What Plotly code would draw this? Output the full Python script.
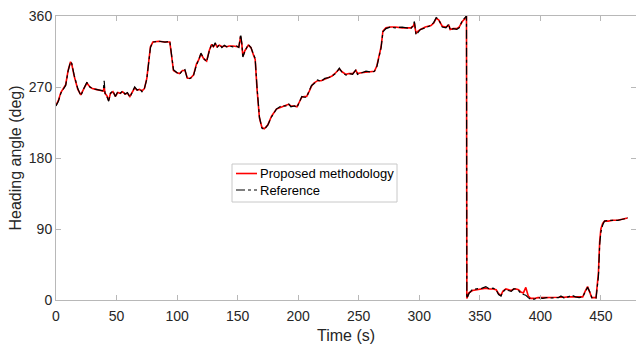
import plotly.graph_objects as go

T = [0, 2, 4, 6, 8, 10, 12, 13, 15, 18, 20.5, 23, 25.5, 28, 30, 33, 36, 39, 39.8, 40.5,
     42, 43.5, 45, 47, 49, 51, 53, 55, 57, 59, 61, 63, 65, 67, 69, 71, 73, 75, 76.5, 78,
     80, 85, 90, 94, 95.5, 97, 100, 102, 104.5, 106.5, 108.5, 111, 113.5, 116, 118, 119.7, 122, 124.4, 126.5, 128.6,
     130, 131.5, 133, 135, 137, 139, 141, 143, 146, 149, 151, 152.5, 153.5, 154.3, 156, 158.8, 161, 163, 164.5, 166,
     168, 170, 172, 175, 178, 182, 186, 190, 192, 194, 197, 199, 201, 203, 205, 207, 209, 211, 213, 216,
     219, 222, 225.7, 228, 231, 234, 236.5, 239.5, 242, 245, 247.7, 249, 252, 256, 260, 263, 265, 267, 268.5, 270,
     272.5, 276, 280, 286, 290, 293, 295, 296, 297.3, 299, 301, 305, 309.7, 312, 314, 316, 319, 322, 324.5, 325.5,
     328, 331, 333, 335.5, 338, 339, 339.3, 341, 344, 348, 352, 355, 358, 361, 363.5, 365.5, 367.5, 369, 371.5, 373.5,
     376, 378, 380, 382, 384, 386, 388, 390, 392, 395, 398, 402, 405, 408, 412, 415, 417, 420, 423, 426,
     429, 432, 435, 437, 439, 441, 442.5, 446, 448, 449, 450, 451.5, 453, 456, 460, 464, 467, 470, 471, 472]

REFERENCE = [246, 252, 262, 268, 272, 290, 302, 300, 285, 268, 259, 268, 276, 270, 268, 267, 266, 265, 278, 262,
             258, 252, 262, 265, 258, 264, 262, 265, 261, 263, 257, 263, 270, 266, 268, 264, 268, 280, 302, 320,
             327, 328, 327, 328, 310, 292, 288, 286, 291, 292, 280, 281, 284, 298, 305, 313, 306, 302, 315, 325,
             321, 326, 320, 324, 320, 323, 321, 322, 321, 322, 320, 337, 325, 308, 315, 324, 320, 312, 306, 270,
             232, 218, 216, 222, 232, 242, 246, 246, 249, 245, 246, 244, 250, 258, 257, 257, 265, 272, 274, 279,
             277, 281, 282, 284, 287, 294, 288, 285, 287, 286, 292, 286, 288, 290, 289, 290, 296, 310, 320, 340,
             344, 346, 345, 346, 345, 344, 348, 353, 336, 340, 343, 345, 348, 352, 358, 356, 346, 345, 350, 342,
             344, 343, 345, 354, 358, 360, 2, 8, 13.5, 14, 15, 17, 14, 15, 13, 7, 5, 10, 14, 12,
             11, 14, 14, 12, 8, 7, 6, 3, 1, 1, 3, 2, 3, 2.5, 3, 3, 5, 2, 4, 6,
             4, 3, 4, 10, 16, 10, 3, 2.5, 30, 70, 86, 95, 100, 101, 101, 101, 102, 103, 105, 104]

PROPOSED = [247, 253, 263, 268, 273, 291, 302, 299, 284, 267, 260, 268, 275, 270, 268, 267, 266, 265, 270, 262,
            259, 253, 262, 264, 258, 263, 262, 264, 261, 262, 258, 263, 269, 266, 267, 265, 268, 281, 303, 321,
            327, 328, 327, 327, 309, 291, 288, 287, 291, 291, 281, 281, 285, 299, 305, 312, 306, 303, 316, 324,
            321, 325, 321, 323, 321, 322, 321, 322, 322, 321, 321, 334, 324, 309, 316, 323, 320, 311, 305, 268,
            231, 219, 217, 222, 233, 242, 245, 247, 248, 246, 246, 245, 251, 257, 258, 258, 264, 271, 275, 278,
            278, 280, 283, 284, 288, 293, 289, 286, 287, 287, 291, 287, 288, 289, 290, 290, 297, 311, 321, 341,
            345, 346, 346, 345, 345, 345, 347, 351, 338, 341, 343, 346, 348, 351, 357, 355, 347, 346, 348, 343,
            344, 344, 346, 353, 357, 360, 2, 9, 12, 13, 14, 15, 14, 14, 13, 8, 6, 11, 14, 13,
            12, 14, 14, 13, 10, 9, 16, 5, 2, 2, 3, 3, 3, 3, 3, 3.5, 4, 3.5, 4, 4,
            4, 4, 4, 11, 17, 9, 3, 3, 35, 74, 90, 97, 100, 100, 101, 101, 102, 103, 104, 104]

SERIES_NAMES = ["Proposed methodology", "Reference"]

AXIS_GREY = "#b8b8b8"
TEXT = "#262626"

fig = go.Figure()
fig.add_trace(go.Scatter(x=T, y=PROPOSED, mode="lines", name=SERIES_NAMES[0],
                         line=dict(color="#ff0000", width=1.6), showlegend=False))
fig.add_trace(go.Scatter(x=T, y=REFERENCE, mode="lines", name=SERIES_NAMES[1],
                         line=dict(color="#000000", width=1.2, dash="dashdot"), showlegend=False))

# custom legend (pixel -> paper conversion for plot area 56..636 x 16..300)
def px(x):
    return (x - 56) / 580.0

def py(y):
    return (300 - y) / 284.0

shapes = [
    dict(type="rect", xref="paper", yref="paper", x0=px(232), x1=px(397), y0=py(202), y1=py(164),
         line=dict(color="#c8c8c8", width=1), fillcolor="white", layer="above"),
    dict(type="line", xref="paper", yref="paper", x0=px(236), x1=px(257), y0=py(173.5), y1=py(173.5),
         line=dict(color="#ff0000", width=1.6), layer="above"),
    dict(type="line", xref="paper", yref="paper", x0=px(236), x1=px(257), y0=py(190), y1=py(190),
         line=dict(color="#000000", width=1.2, dash="dashdot"), layer="above"),
]
annotations = [
    dict(xref="paper", yref="paper", x=px(258), y=py(173.5), text=SERIES_NAMES[0], showarrow=False,
         xanchor="left", yanchor="middle", font=dict(size=13, color="#000000")),
    dict(xref="paper", yref="paper", x=px(258), y=py(190), text=SERIES_NAMES[1], showarrow=False,
         xanchor="left", yanchor="middle", font=dict(size=13, color="#000000")),
]

fig.update_layout(
    width=636, height=344,
    margin=dict(l=56, r=0, t=16, b=44),
    paper_bgcolor="white", plot_bgcolor="white",
    font=dict(family="Liberation Sans, Arial, sans-serif", size=14, color=TEXT),
    showlegend=False,
    shapes=shapes,
    annotations=annotations,
    xaxis=dict(range=[0, 479], tickvals=[0, 50, 100, 150, 200, 250, 300, 350, 400, 450],
               ticks="inside", ticklen=5, tickcolor=AXIS_GREY,
               showline=True, linecolor=AXIS_GREY, linewidth=1, mirror="allticks",
               showgrid=False, zeroline=False, ticklabelstandoff=3,
               title=dict(text="Time (s)", font=dict(size=16), standoff=8),
               tickfont=dict(size=14, color=TEXT)),
    yaxis=dict(range=[0, 360], tickvals=[0, 90, 180, 270, 360],
               ticks="inside", ticklen=5, tickcolor=AXIS_GREY,
               showline=True, linecolor=AXIS_GREY, linewidth=1, mirror="allticks",
               showgrid=False, zeroline=False,
               title=dict(text="Heading angle (deg)", font=dict(size=16), standoff=3),
               tickfont=dict(size=14, color=TEXT)),
)

fig.write_html("out.html")
